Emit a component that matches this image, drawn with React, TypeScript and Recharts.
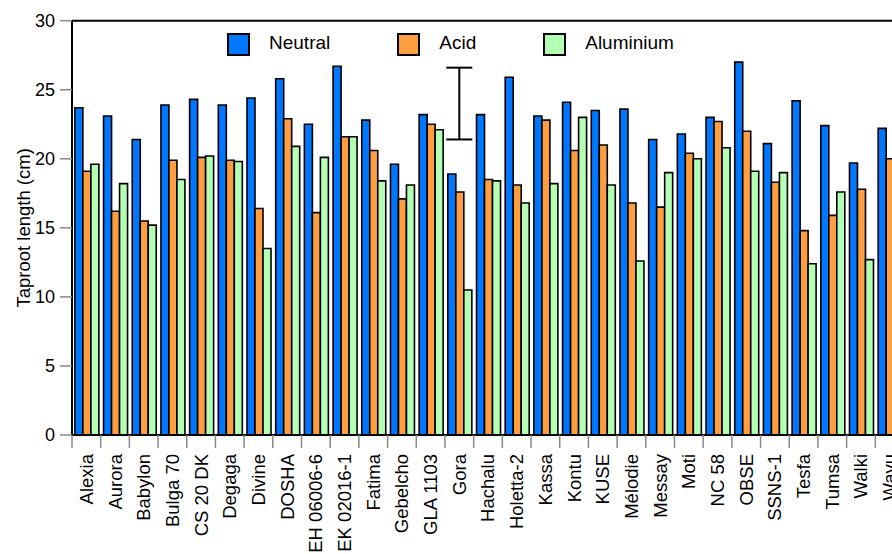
import {
  Bar,
  ComposedChart,
  ErrorBar,
  Label,
  Legend,
  ReferenceLine,
  Scatter,
  XAxis,
  YAxis,
} from "recharts";

const cultivars = [
  "Alexia", "Aurora", "Babylon", "Bulga 70", "CS 20 DK", "Degaga", "Divine",
  "DOSHA", "EH 06006-6", "EK 02016-1", "Fatima", "Gebelcho", "GLA 1103", "Gora",
  "Hachalu", "Holetta-2", "Kassa", "Kontu", "KUSE", "Mélodie", "Messay", "Moti",
  "NC 58", "OBSE", "SSNS-1", "Tesfa", "Tumsa", "Walki", "Wayu",
];

const neutral = [
  23.7, 23.1, 21.4, 23.9, 24.3, 23.9, 24.4, 25.8, 22.5, 26.7, 22.8, 19.6, 23.2, 18.9,
  23.2, 25.9, 23.1, 24.1, 23.5, 23.6, 21.4, 21.8, 23.0, 27.0, 21.1, 24.2, 22.4, 19.7, 22.2,
];
const acid = [
  19.1, 16.2, 15.5, 19.9, 20.1, 19.9, 16.4, 22.9, 16.1, 21.6, 20.6, 17.1, 22.5, 17.6,
  18.5, 18.1, 22.8, 20.6, 21.0, 16.8, 16.5, 20.4, 22.7, 22.0, 18.3, 14.8, 15.9, 17.8, 20.0,
];
const aluminium = [
  19.6, 18.2, 15.2, 18.5, 20.2, 19.8, 13.5, 20.9, 20.1, 21.6, 18.4, 18.1, 22.1, 10.5,
  18.4, 16.8, 18.2, 23.0, 18.1, 12.6, 19.0, 20.0, 20.8, 19.1, 19.0, 12.4, 17.6, 12.7, 19.0,
];

const yTicks = [0, 5, 10, 15, 20, 25, 30];

// LSD bar drawn over Gora
const lsdCultivar = "Gora";
const lsdCentre = 24.0;
const lsdHalf = 2.6;

const series = [
  { key: "neutral", name: "Neutral", color: "#0077FF" },
  { key: "acid", name: "Acid", color: "#FF9E40" },
  { key: "aluminium", name: "Aluminium", color: "#B3FFB3" },
];

const data = cultivars.map((name, i) => ({
  name,
  neutral: neutral[i],
  acid: acid[i],
  aluminium: aluminium[i],
  lsd: name === lsdCultivar ? lsdCentre : undefined,
  lsdErr: name === lsdCultivar ? lsdHalf : undefined,
}));

const FONT = '"Liberation Sans", Arial, Helvetica, sans-serif';

const CultivarTick = (props: any) => {
  const { x, y, payload } = props;
  const half = payload?.offset ?? 0;
  return (
    <g>
      <line x1={x - half} x2={x - half} y1={y} y2={y + 13} stroke="#888" strokeWidth={1.5} />
      <text
        transform={`translate(${x},${y + 19}) rotate(-90)`}
        textAnchor="end"
        dy="0.35em"
        fontSize={18.5}
        fontFamily={FONT}
        fill="#000"
      >
        {payload.value}
      </text>
    </g>
  );
};

const AxisTitle = (props: any) => {
  const vb = props.viewBox || { x: 0, y: 0, height: 0 };
  const cy = vb.y + vb.height / 2;
  return (
    <text
      transform={`translate(${vb.x + 29.5},${cy}) rotate(-90)`}
      textAnchor="middle"
      fontSize={18.5}
      fontFamily={FONT}
      fill="#000"
    >
      Taproot length (cm)
    </text>
  );
};

const LegendBox = () => (
  <div style={{ display: "flex", fontFamily: FONT, fontSize: 19, color: "#000" }}>
    {series.map((s) => (
      <div key={s.key} style={{ display: "flex", alignItems: "center", marginRight: 67 }}>
        <span
          style={{
            width: 23,
            height: 23,
            boxSizing: "border-box",
            border: "2px solid #000",
            background: s.color,
            display: "inline-block",
          }}
        />
        <span style={{ marginLeft: 19, lineHeight: "23px", position: "relative", top: -2.5 }}>
          {s.name}
        </span>
      </div>
    ))}
  </div>
);

export default function App() {
  return (
    <div
      style={{
        position: "absolute",
        left: 0,
        top: 0,
        width: 892,
        height: 554,
        overflow: "hidden",
        background: "#fff",
      }}
    >
      <ComposedChart
        width={930}
        height={554}
        data={data}
        margin={{ top: 20.7, right: 26, bottom: 0, left: 0 }}
        barCategoryGap="10%"
        barGap={0}
      >
        <XAxis
          dataKey="name"
          interval={0}
          allowDuplicatedCategory={false}
          height={119}
          tickSize={0}
          tickMargin={0}
          tickLine={false}
          axisLine={{ stroke: "#000", strokeWidth: 2 }}
          tick={(p: any) => <CultivarTick {...p} />}
        />
        <YAxis
          width={72}
          domain={[0, 30]}
          ticks={yTicks}
          interval={0}
          tickSize={12}
          tickMargin={5}
          tickLine={{ stroke: "#888", strokeWidth: 1.5 }}
          axisLine={{ stroke: "#000", strokeWidth: 2 }}
          tick={{ fill: "#000", fontSize: 18, fontFamily: FONT }}
        >
          <Label content={(p: any) => <AxisTitle {...p} />} />
        </YAxis>
        <ReferenceLine y={30} stroke="#000" strokeWidth={2} />
        <Legend
          layout="horizontal"
          verticalAlign="middle"
          align="center"
          wrapperStyle={{ top: 33, left: 227, width: "auto", height: "auto" }}
          content={() => <LegendBox />}
        />
        {series.map((s) => (
          <Bar
            key={s.key}
            dataKey={s.key}
            name={s.name}
            fill={s.color}
            stroke="#000"
            strokeWidth={1.6}
            isAnimationActive={false}
          />
        ))}
        <Scatter
          dataKey="lsd"
          legendType="none"
          shape={() => <g />}
          isAnimationActive={false}
        >
          <ErrorBar dataKey="lsdErr" direction="y" width={13} stroke="#000" strokeWidth={2} />
        </Scatter>
      </ComposedChart>
    </div>
  );
}
